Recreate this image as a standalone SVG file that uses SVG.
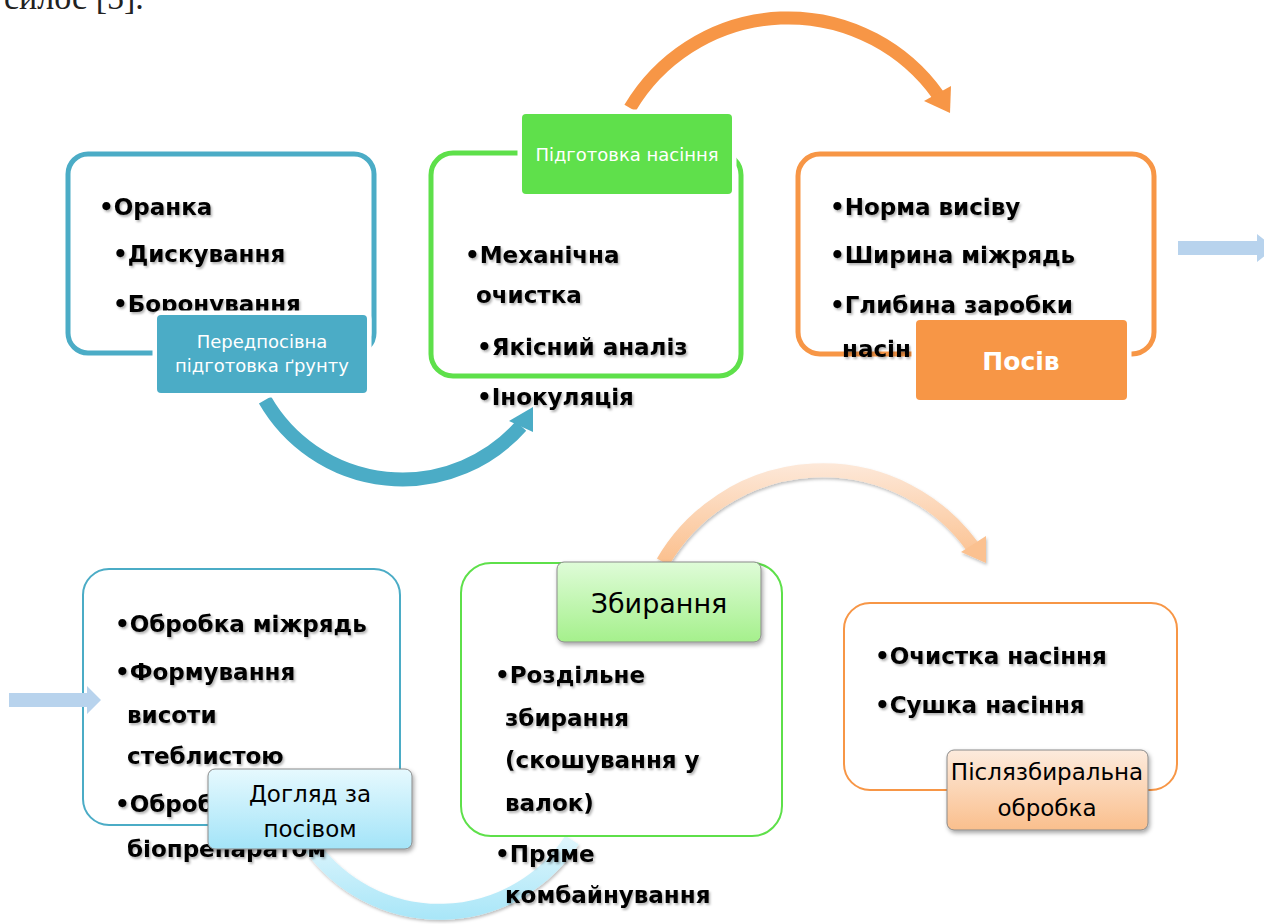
<svg xmlns="http://www.w3.org/2000/svg" width="1264" height="924" viewBox="0 0 1264 924">
<style>
.b{font-family:"DejaVu Sans",sans-serif;font-weight:bold;font-size:23px;fill:#000;filter:url(#ts)}
.lw{font-family:"DejaVu Sans",sans-serif;font-size:18px;fill:#fff;text-anchor:middle}
.lk{font-family:"DejaVu Sans",sans-serif;font-size:23px;fill:#000;text-anchor:middle}
.lk26{font-size:27px}
.box{fill:#fff}
.halo{stroke:#fff;stroke-width:9;paint-order:stroke}
.glab{stroke:#8a8a8a;stroke-width:1;filter:url(#ds)}
.arc{fill:none}
.flat{fill:#B8D3ED}
</style>
<defs>
<filter id="ts" x="-10%" y="-30%" width="120%" height="170%">
<feDropShadow dx="1.5" dy="2" stdDeviation="1.2" flood-color="#000" flood-opacity="0.3"/>
</filter>
<filter id="ds" x="-10%" y="-20%" width="125%" height="150%">
<feDropShadow dx="1.5" dy="2.5" stdDeviation="2" flood-color="#000" flood-opacity="0.35"/>
</filter>
<filter id="as" x="-10%" y="-20%" width="125%" height="150%">
<feDropShadow dx="1" dy="2" stdDeviation="1.5" flood-color="#000" flood-opacity="0.25"/>
</filter>
<linearGradient id="gBlue" x1="0" y1="0" x2="0" y2="1">
<stop offset="0" stop-color="#E6F9FE"/><stop offset="1" stop-color="#A3E4F8"/>
</linearGradient>
<linearGradient id="gGreen" x1="0" y1="0" x2="0" y2="1">
<stop offset="0" stop-color="#DFFCD8"/><stop offset="1" stop-color="#A5F08C"/>
</linearGradient>
<linearGradient id="gPeach" x1="0" y1="0" x2="0" y2="1">
<stop offset="0" stop-color="#FDEBDD"/><stop offset="1" stop-color="#FABF8D"/>
</linearGradient>
<linearGradient id="gArcO" gradientUnits="userSpaceOnUse" x1="0" y1="462" x2="0" y2="565">
<stop offset="0" stop-color="#FDE9DA"/><stop offset="1" stop-color="#FBBF8C"/>
</linearGradient>
<linearGradient id="gArcB" gradientUnits="userSpaceOnUse" x1="0" y1="840" x2="0" y2="920">
<stop offset="0" stop-color="#DDF5FC"/><stop offset="1" stop-color="#A8E6F8"/>
</linearGradient>
</defs>

<rect width="1264" height="924" fill="#fff"/>
<text x="4" y="9" font-family="Liberation Serif, serif" font-size="34" fill="#222">силос [5].</text>

<g id="connectors">
<path class="arc" d="M 630 108 A 184 184 0 0 1 938 95" stroke="#F79646" stroke-width="13"/>
<polygon points="951,86 924,101 950,113" fill="#F79646"/>
<path class="arc" d="M 265 400 A 158.5 158.5 0 0 0 521 426" stroke="#4BACC6" stroke-width="14"/>
<polygon points="533,407 509,421 533,432" fill="#4BACC6"/>
<g filter="url(#as)">
<path class="arc" d="M 663 562 A 185 185 0 0 1 972 546" stroke="url(#gArcO)" stroke-width="14"/>
<polygon points="986,536 961,552 986,563" fill="#FBC190"/>
</g>
<g filter="url(#as)">
<path class="arc" d="M 312 847 A 158 158 0 0 0 572 840" stroke="url(#gArcB)" stroke-width="16"/>
</g>
</g>

<g id="node-pre-sowing">
<rect class="box" x="68" y="154" width="306" height="199" rx="20" stroke="#4BACC6" stroke-width="5"/>
<text class="b" x="99" y="215">•Оранка</text>
<text class="b" x="113" y="262">•Дискування</text>
<text class="b" x="113" y="312">•Боронування</text>
<rect class="halo" x="157" y="315" width="210" height="78" rx="4" fill="#4BACC6"/>
<text class="lw" x="262" y="348">Передпосівна</text>
<text class="lw" x="262" y="372">підготовка ґрунту</text>
</g>

<g id="node-seed-prep">
<rect class="box" x="431" y="153" width="310" height="223" rx="22" stroke="#5EE04A" stroke-width="5"/>
<text class="b" x="465" y="263">•Механічна</text>
<text class="b" x="476" y="303">очистка</text>
<text class="b" x="477" y="355">•Якісний аналіз</text>
<text class="b" x="477" y="405">•Інокуляція</text>
<rect class="halo" x="522" y="114" width="210" height="80" rx="4" fill="#5FE04B"/>
<text class="lw" x="627" y="161">Підготовка насіння</text>
</g>

<g id="node-sowing">
<rect class="box" x="798" y="154" width="356" height="200" rx="22" stroke="#F79646" stroke-width="5"/>
<text class="b" x="830" y="215">•Норма висіву</text>
<text class="b" x="830" y="263">•Ширина міжрядь</text>
<text class="b" x="830" y="313">•Глибина заробки</text>
<text class="b" x="842" y="357">насіння</text>
<rect class="halo" x="916" y="320" width="211" height="80" rx="4" fill="#F79646"/>
<text x="1021" y="370" font-family="DejaVu Sans, sans-serif" font-weight="bold" font-size="25" fill="#fff" text-anchor="middle">Посів</text>
</g>

<g id="node-care">
<rect class="box" x="83" y="569" width="317" height="256" rx="26" stroke="#4BACC6" stroke-width="2"/>
<text class="b" x="115" y="632">•Обробка міжрядь</text>
<text class="b" x="115" y="680">•Формування</text>
<text class="b" x="127" y="723">висоти</text>
<text class="b" x="127" y="764">стеблистою</text>
<text class="b" x="115" y="812">•Обробка</text>
<text class="b" x="127" y="857">біопрепаратом</text>
<rect class="glab" x="208" y="769" width="204" height="80" rx="7" fill="url(#gBlue)"/>
<text class="lk" x="310" y="802">Догляд за</text>
<text class="lk" x="310" y="837">посівом</text>
</g>

<g id="node-harvest">
<rect class="box" x="461" y="563" width="321" height="273" rx="30" stroke="#5EE04A" stroke-width="2"/>
<text class="b" x="495" y="683">•Роздільне</text>
<text class="b" x="505" y="726">збирання</text>
<text class="b" x="505" y="768">(скошування у</text>
<text class="b" x="505" y="811">валок)</text>
<text class="b" x="495" y="862">•Пряме</text>
<text class="b" x="505" y="903">комбайнування</text>
<rect class="glab" x="557" y="562" width="204" height="80" rx="7" fill="url(#gGreen)"/>
<text class="lk lk26" x="659" y="613">Збирання</text>
</g>

<g id="node-post-harvest">
<rect class="box" x="844" y="603" width="333" height="187" rx="26" stroke="#F79646" stroke-width="2"/>
<text class="b" x="875" y="664">•Очистка насіння</text>
<text class="b" x="875" y="713">•Сушка насіння</text>
<rect class="glab" x="947" y="750" width="201" height="80" rx="7" fill="url(#gPeach)"/>
<text class="lk" x="1047" y="780">Післязбиральна</text>
<text class="lk" x="1047" y="816">обробка</text>
</g>

<g id="connectors-flat">
<polygon class="flat" points="1178,241 1257,241 1257,234 1275,248 1257,262 1257,255 1178,255"/>
<polygon class="flat" points="9,693 87,693 87,686 101,700 87,714 87,707 9,707"/>
</g>
</svg>
